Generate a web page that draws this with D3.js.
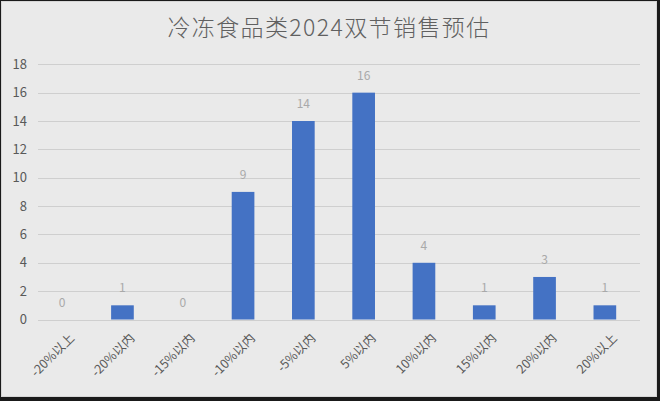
<!DOCTYPE html>
<html>
<head>
<meta charset="utf-8">
<script src="https://cdn.jsdelivr.net/npm/d3@7"></script>
<style>
  html, body { margin: 0; padding: 0; background: #000; }
  svg { display: block; }
</style>
</head>
<body>
<svg id="chart"></svg>
<script>
// chart data
const title = "冷冻食品类2024双节销售预估";
const categories = ["-20%以上", "-20%以内", "-15%以内", "-10%以内", "-5%以内", "5%以内", "10%以内", "15%以内", "20%以内", "20%以上"];
const counts = [0, 1, 0, 9, 14, 16, 4, 1, 3, 1];
const yTicks = [0, 2, 4, 6, 8, 10, 12, 14, 16, 18];

const width = 660, height = 401;
const font = "'Noto Sans CJK SC', 'Noto Sans', sans-serif";

const svg = d3.select("#chart")
    .attr("width", width)
    .attr("height", height);

// frame
svg.append("rect")
    .attr("width", width).attr("height", height)
    .attr("fill", "#1a1a1a");
svg.append("rect")
    .attr("x", 1.5).attr("y", 1.5)
    .attr("width", 655).attr("height", 395)
    .attr("fill", "#eaeaea")
    .attr("stroke", "#d6d6d6");

const xScale = d3.scaleBand()
    .domain(categories)
    .range([32, 635])
    .paddingInner(0.624)
    .paddingOuter(0.312);

const yScale = d3.scaleLinear()
    .domain([0, 18])
    .range([319.5, 64.3]);

// gridlines
svg.append("g")
    .selectAll("line")
    .data(yTicks)
    .join("line")
    .attr("x1", 38)
    .attr("x2", 640)
    .attr("y1", d => Math.round(yScale(d)) + 0.5)
    .attr("y2", d => Math.round(yScale(d)) + 0.5)
    .attr("stroke", "#cfcfcf")
    .attr("stroke-width", 1);

// y axis labels
const yAxis = svg.append("g")
    .attr("transform", "translate(27,0)")
    .call(d3.axisLeft(yScale).tickValues(yTicks).tickSize(0).tickPadding(0));
yAxis.select(".domain").remove();
yAxis.selectAll("text")
    .attr("fill", "#595959")
    .style("font-family", font)
    .style("font-size", "13px");

// bars
svg.append("g")
    .selectAll("rect")
    .data(counts)
    .join("rect")
    .attr("x", (d, i) => xScale(categories[i]))
    .attr("y", d => yScale(d))
    .attr("width", xScale.bandwidth())
    .attr("height", d => yScale(0) - yScale(d))
    .attr("fill", "#4472c4");

// value labels
svg.append("g")
    .selectAll("text")
    .data(counts)
    .join("text")
    .attr("x", (d, i) => xScale(categories[i]) + xScale.bandwidth() / 2)
    .attr("y", d => yScale(d) - 13)
    .attr("text-anchor", "middle")
    .attr("fill", "#a9a9a9")
    .style("font-family", font)
    .style("font-size", "12px")
    .text(d => d);

// x axis labels
svg.append("g")
    .selectAll("text")
    .data(categories)
    .join("text")
    .attr("transform", d => `translate(${xScale(d) + xScale.bandwidth() / 2 + 9}, 335) rotate(-45)`)
    .attr("text-anchor", "end")
    .attr("dominant-baseline", "central")
    .attr("fill", "#595959")
    .style("font-family", font)
    .style("font-size", "12.5px")
    .text(d => d);

// title
svg.append("text")
    .attr("x", 329)
    .attr("y", 36)
    .attr("text-anchor", "middle")
    .attr("fill", "#606060")
    .style("font-family", font)
    .style("font-size", "23px")
    .style("font-weight", "300")
    .style("letter-spacing", "1.4px")
    .text(title);
</script>
</body>
</html>
